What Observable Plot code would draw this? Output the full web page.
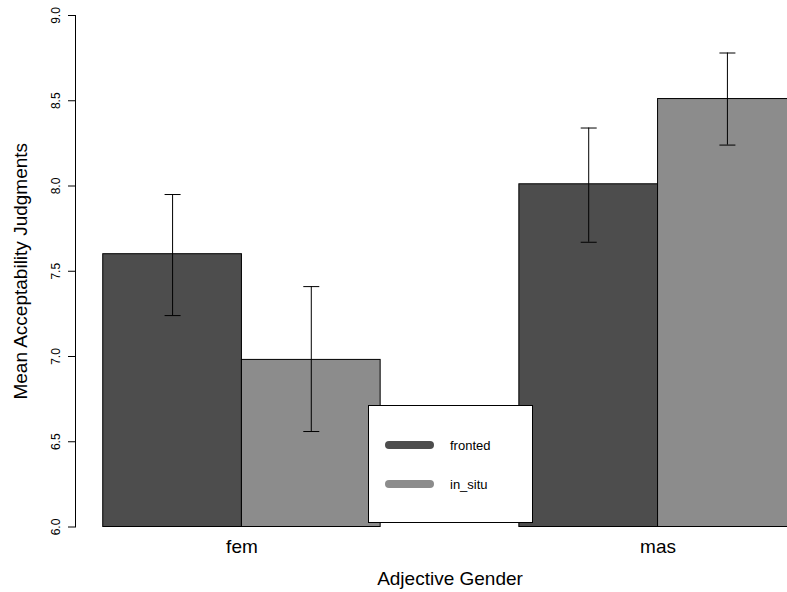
<!DOCTYPE html>
<html><head><meta charset="utf-8">
<script src="https://cdn.jsdelivr.net/npm/d3@7"></script>
<script src="https://cdn.jsdelivr.net/npm/@observablehq/plot@0.6"></script>
<style>
body{margin:0;background:#fff;}
#wrap{position:relative;width:787px;height:592px;overflow:hidden;font-family:"Liberation Sans",Arial,sans-serif;}
#legend{position:absolute;left:368px;top:405px;width:163px;height:116px;border:1px solid #000;background:#fff;}
</style>
</head><body><div id="wrap"></div>
<script>
// ---- data ----
const genders = ["fem", "mas"];
const conditions = ["fronted", "in_situ"];
const frontedMean = [7.60, 8.01];
const inSituMean = [6.98, 8.51];
const frontedLo = [7.24, 7.67];
const frontedHi = [7.95, 8.34];
const inSituLo = [6.56, 8.24];
const inSituHi = [7.41, 8.78];
const yTicks = [6.0, 6.5, 7.0, 7.5, 8.0, 8.5, 9.0];
const colors = ["#4d4d4d", "#8c8c8c"];
const xTitle = "Adjective Gender";
const yTitle = "Mean Acceptability Judgments";

// ---- R barplot(beside=TRUE) layout: bar width 1, space 1 between groups ----
const means = [frontedMean, inSituMean];
const los = [frontedLo, inSituLo];
const his = [frontedHi, inSituHi];
const rows = [];
genders.forEach((g, gi) => {
  conditions.forEach((c, ci) => {
    const x1 = 1 + gi * (conditions.length + 1) + ci;
    rows.push({gender: g, condition: c, x1, x2: x1 + 1, xm: x1 + 0.5,
      value: means[ci][gi], lo: los[ci][gi], hi: his[ci][gi]});
  });
});
const groupCenters = genders.map((g, gi) => 1 + gi * (conditions.length + 1) + conditions.length / 2);
const xMin = 1 - 0.04 * 5, xMax = 6 + 0.04 * 5;

const cap = {draw(ctx, size) { const r = Math.sqrt(size / Math.PI); ctx.moveTo(-r, 0); ctx.lineTo(r, 0); }};

const chart = Plot.plot({
  width: 787, height: 592,
  marginLeft: 75, marginTop: 15, marginBottom: 65.5, marginRight: 0,
  style: {fontFamily: '"Liberation Sans", Arial, sans-serif', background: "white", overflow: "hidden"},
  x: {type: "linear", domain: [xMin, xMax], range: [75, 824], axis: null},
  y: {domain: [6, 9], axis: null},
  color: {domain: conditions, range: colors},
  marks: [
    Plot.rect(rows, {x1: "x1", x2: "x2", y1: 6, y2: "value", fill: "condition", stroke: "black", strokeWidth: 1}),
    Plot.ruleX(rows, {x: "xm", y1: "lo", y2: "hi", stroke: "black", strokeWidth: 1}),
    Plot.dot(rows, {x: "xm", y: "lo", symbol: cap, r: 8, stroke: "black", fill: "none", strokeWidth: 1}),
    Plot.dot(rows, {x: "xm", y: "hi", symbol: cap, r: 8, stroke: "black", fill: "none", strokeWidth: 1}),
    Plot.frame({anchor: "left", stroke: "black", strokeOpacity: 1}),
    Plot.axisY({ticks: yTicks, tickFormat: d => d.toFixed(1), tickRotate: -90, tickSize: 7, tickPadding: 9,
      fontSize: 12, label: null, stroke: "black", color: "black"}),
    Plot.text(genders, {x: (d, i) => groupCenters[i], text: d => d, frameAnchor: "bottom", dy: 20,
      lineAnchor: "middle", fontSize: 19, fill: "black"}),
    Plot.text([xTitle], {x: (xMin + xMax) / 2, text: d => d, frameAnchor: "bottom", dy: 52,
      lineAnchor: "middle", fontSize: 19, fill: "black"}),
    Plot.text([yTitle], {text: d => d, frameAnchor: "left", textAnchor: "middle", dx: -55, rotate: -90,
      lineAnchor: "middle", fontSize: 19, fill: "black"})
  ]
});
const wrap = document.getElementById("wrap");
wrap.appendChild(chart);

// ---- legend (inside plot area, like R's legend()) ----
const lg = d3.select(wrap).append("div").attr("id", "legend");
const lsvg = lg.append("svg").attr("width", 163).attr("height", 116).style("display", "block");
conditions.forEach((c, i) => {
  const y = 39 + i * 39;
  lsvg.append("line").attr("x1", 20).attr("x2", 61).attr("y1", y).attr("y2", y)
    .attr("stroke", colors[i]).attr("stroke-width", 8).attr("stroke-linecap", "round");
  lsvg.append("text").attr("x", 81).attr("y", y).attr("dominant-baseline", "central")
    .attr("font-size", 13).attr("font-family", '"Liberation Sans", Arial, sans-serif').attr("fill", "black").text(c);
});
</script>
</body></html>
